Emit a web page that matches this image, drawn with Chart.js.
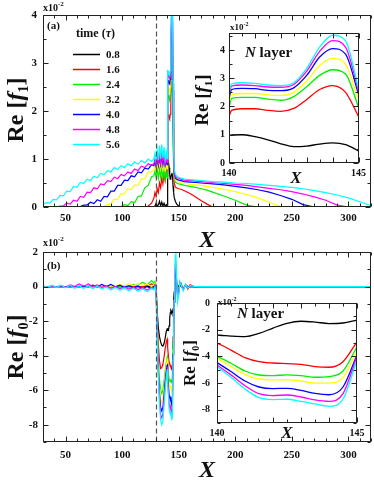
<!DOCTYPE html>
<html>
<head>
<meta charset="utf-8">
<script src="https://cdn.jsdelivr.net/npm/chart.js@4.4.0/dist/chart.umd.min.js"></script>
<style>
  html, body { margin: 0; padding: 0; background: #fff; }
  #wrap { position: relative; width: 374px; height: 484px; overflow: hidden; }
  canvas { position: absolute; }
</style>
</head>
<body>
<div id="wrap">
  <canvas id="mainA" width="374" height="250" style="left:0;top:0"></canvas>
  <canvas id="mainB" width="374" height="248" style="left:0;top:236px"></canvas>
  <canvas id="insetA" width="190" height="170" style="left:180px;top:18px"></canvas>
  <canvas id="insetB" width="210" height="160" style="left:160px;top:290px"></canvas>
</div>
<script>
// ---- data (values in units of 1e-2) ----
const timeLabels = ['0.8', '1.6', '2.4', '3.2', '4.0', '4.8', '5.6'];
const lineColors = ['#000000', '#ff0000', '#00ee00', '#ffff00', '#0000ff', '#ff00ff', '#00ffff'];

const xRampA = [30,33,36,39,42,45,48,51,54,57,60,63,66,69,72,75,78,81,84,87,90,93,96,99,102,105,108,111,114,117,120,123,126];
const xRampB = [30,34,38,42,46,50,54,58,62,66,70,74,78,82,86,90,94,98,102,106,110,114,118,122,126];
const xFront = [128,129,130,131,132,133,134,135,136,137,138,139,139.8];
const xLayer = [140,140.1,140.5,141,141.5,142,142.5,143,143.5,144,144.5,145];
const xTailA = [145.5,146,147,148,149,150,152,155,160,165,170,175,180,190,200,210,220,230,240,250,260,270,280,290,300,310,320];
const xTailB = [145.5,146,146.5,147,147.5,148,149,150,151,152,154,156,158,160,165,170,180,200,250,320];

const xMainTicks = [50, 100, 150, 200, 250, 300];
const xInsetTicks = [140, 145];
const yTicksA = [0, 1, 2, 3, 4];
const yTicksB = [2, 0, -2, -4, -6, -8];
const yTicksInsetB = [0, -2, -4, -6, -8];

// Re[f1], panel (a)
const f1_08 = [0,0,0,0,0,0,0,0,0,0,0,0,0,0,0,0,0,0,0,0,0,0,0,0,0,0,0,0,0,0,0,0,0,
  0,0.02,0.08,0.01,0.05,0.12,0.02,0.1,0.02,0.08,0.01,0.05,0.02,
  0.97,0.99,1.0,0.93,0.82,0.68,0.58,0.6,0.67,0.71,0.65,0.43,
  0.3,0.2,0.12,0.07,0.04,0.02,0,0,0,0,0,0,0,0,0,0,0,0,0,0,0,0,0,0,0,0,0];
const f1_16 = [0,0,0,0,0,0,0,0,0,0,0,0,0,0,0,0,0,0,0,0,0,0,0,0,0,0,0,0,0,0,0,0.02,0.08,
  0.18,0.3,0.22,0.38,0.3,0.5,0.4,0.6,0.48,0.68,0.55,0.75,0.65,
  1.65,1.86,1.92,1.92,1.86,1.83,1.93,2.25,2.6,2.74,2.5,1.65,
  0.8,0.5,0.42,0.4,0.39,0.38,0.37,0.34,0.28,0.21,0.13,0.06,0,0,0,0,0,0,0,0,0,0,0,0,0,0,0];
const f1_24 = [0,0,0,0,0,0,0,0,0,0,0,0,0,0,0,0,0,0,0,0,0,0,0,0.01,0.05,0.03,0.11,0.09,0.22,0.23,0.4,0.45,0.63,
  0.65,0.75,0.62,0.78,0.6,0.8,0.62,0.82,0.6,0.78,0.58,0.7,0.6,
  1.95,2.28,2.32,2.32,2.26,2.22,2.35,2.7,3.1,3.3,3.15,1.98,
  0.9,0.62,0.52,0.5,0.49,0.48,0.47,0.45,0.43,0.41,0.38,0.35,0.31,0.23,0.14,0.04,0,0,0,0,0,0,0,0,0,0,0];
const f1_32 = [0,0,0,0,0,0,0,0,0,0,0,0,0,0,0,0,0,0,0.01,0.05,0.06,0.16,0.16,0.28,0.27,0.38,0.36,0.46,0.45,0.58,0.59,0.73,0.73,
  0.78,0.88,0.76,0.92,0.78,0.96,0.8,0.98,0.8,0.94,0.78,0.88,0.8,
  2.1,2.42,2.46,2.46,2.41,2.39,2.5,2.9,3.45,3.7,3.5,2.27,
  0.95,0.66,0.56,0.54,0.53,0.52,0.51,0.49,0.47,0.46,0.45,0.43,0.41,0.37,0.32,0.26,0.19,0.1,0.01,0,0,0,0,0,0,0,0];
const f1_40 = [0,0,0,0,0,0,0,0,0,0,0,0.01,0.04,0.04,0.1,0.07,0.15,0.12,0.22,0.21,0.33,0.33,0.45,0.45,0.56,0.55,0.65,0.63,0.73,0.71,0.81,0.79,0.88,
  0.86,0.95,0.84,1.0,0.86,1.04,0.88,1.06,0.88,1.02,0.86,0.95,0.88,
  2.3,2.6,2.64,2.63,2.57,2.56,2.66,3.1,3.75,4.05,3.85,2.44,
  1.0,0.7,0.6,0.58,0.57,0.56,0.55,0.53,0.52,0.51,0.5,0.49,0.48,0.46,0.43,0.4,0.36,0.31,0.24,0.16,0.05,0,0,0,0,0,0];
const f1_48 = [0,0.01,0,0.01,0,0.02,0.02,0.08,0.06,0.14,0.12,0.22,0.2,0.31,0.3,0.4,0.38,0.48,0.46,0.55,0.53,0.62,0.59,0.68,0.65,0.73,0.7,0.79,0.76,0.85,0.82,0.9,0.87,
  0.9,1.0,0.88,1.05,0.9,1.1,0.92,1.12,0.93,1.08,0.9,1.0,0.92,
  2.4,2.72,2.76,2.74,2.69,2.68,2.78,3.25,3.95,4.33,4.1,2.56,
  1.1,0.75,0.64,0.62,0.61,0.6,0.58,0.56,0.55,0.54,0.53,0.52,0.51,0.49,0.47,0.45,0.42,0.39,0.36,0.32,0.27,0.21,0.14,0.04,0,0,0];
const f1_56 = [0.05,0.09,0.08,0.16,0.15,0.24,0.23,0.33,0.32,0.43,0.41,0.51,0.49,0.58,0.55,0.64,0.61,0.7,0.67,0.76,0.73,0.82,0.78,0.86,0.82,0.9,0.86,0.94,0.89,0.97,0.92,1.0,0.95,
  1.0,1.12,0.95,1.2,0.98,1.28,1.0,1.3,1.02,1.25,0.98,1.15,1.0,
  2.5,2.8,2.84,2.82,2.76,2.74,2.84,3.35,4.1,4.52,4.32,2.65,
  1.2,0.8,0.68,0.65,0.63,0.62,0.6,0.58,0.57,0.56,0.55,0.54,0.53,0.52,0.5,0.49,0.47,0.45,0.43,0.41,0.38,0.34,0.3,0.25,0.19,0.11,0.03];

// Re[f0], panel (b)
const f0_08 = [0,0,0,0,0,0,0,0,0,0,0,0,0,0,0,0,0,0,0,0,0,0,0,0,0,
  0,0.05,-0.1,-1.5,-2.4,-2.9,-3.2,-3.4,-3.45,-3.3,-3.0,-2.6,-2.45,
  -2.41,-2.42,-2.48,-2.52,-2.28,-1.88,-1.52,-1.37,-1.43,-1.54,-1.5,-1.29,
  -0.8,-0.3,0.05,0.2,0.2,0.05,-0.1,0.05,0.1,0,-0.1,0.05,0,0,0,0,0,0,0,0];
const f0_16 = [0,0,0,0,0,0,0,0,0,0,0,0,0,0,0,0,0,0,0,0,0,0,0,0.05,0.15,
  0.1,0.15,0,-2.0,-3.4,-4.3,-4.75,-4.7,-4.5,-4.1,-3.6,-3.2,-3.05,
  -3.03,-3.1,-3.53,-4.1,-4.4,-4.5,-4.55,-4.6,-4.77,-4.82,-4.4,-2.91,
  -1.6,-0.7,0.1,0.35,0.4,0.1,-0.2,-0.1,0.1,0.2,-0.15,0.1,-0.15,0.1,-0.05,0,0,0,0,0];
const f0_24 = [0,0,0,0,0,0,0,0,0,0,0,0,0,0,0,0,0,0,0.03,0,0.12,0.05,0.25,0.1,0.35,
  0.2,0.3,0.05,-2.4,-4.2,-5.4,-6.0,-6.2,-6.0,-5.5,-4.9,-4.4,-4.1,
  -4.02,-4.1,-4.52,-5.1,-5.4,-5.45,-5.39,-5.45,-5.57,-5.52,-5.1,-3.28,
  -1.9,-0.8,0.2,0.6,0.65,0.2,-0.3,-0.2,0.1,0.05,-0.1,0.05,0,0,0,0,0,0,0,0];
const f0_32 = [0,0,0,0,0,0,0,0,0,0,0,0,0,0,0,0.03,0,0.12,0.02,0.18,0.05,0.2,0.05,0.15,0,
  0.1,0.2,0,-2.6,-4.5,-5.8,-6.5,-6.7,-6.5,-5.9,-5.2,-4.6,-4.25,
  -4.15,-4.27,-4.77,-5.35,-5.7,-5.76,-5.76,-5.85,-6.01,-6.01,-5.6,-3.65,
  -2.0,-0.9,0.3,0.8,0.85,0.3,-0.4,-0.25,0.15,0.05,-0.1,0.05,0,0,0,0,0,0,0,0];
const f0_40 = [0,0,0,0,0,0,0,0,0,0.02,0,0.08,-0.02,0.12,0,0.12,-0.02,0.08,-0.05,0.05,-0.08,0.02,-0.1,0,-0.12,
  -0.05,0.1,-0.1,-2.8,-4.8,-6.2,-7.0,-7.2,-7.0,-6.3,-5.5,-4.9,-4.55,
  -4.47,-4.6,-5.14,-5.85,-6.3,-6.42,-6.4,-6.55,-6.78,-6.88,-6.3,-3.9,
  -2.2,-0.9,0.4,1.0,1.1,0.4,-0.5,-0.3,0.2,0.05,-0.15,0.1,0,0,0,0,0,0,0,0];
const f0_48 = [0,0,0.02,-0.02,0.05,-0.03,0.1,0,0.15,0.02,0.15,0,0.1,-0.05,0.05,-0.1,0,-0.12,-0.02,-0.15,-0.05,-0.18,-0.05,-0.2,-0.05,
  -0.1,0.05,-0.15,-2.9,-5.0,-6.5,-7.4,-7.6,-7.4,-6.6,-5.8,-5.1,-4.75,
  -4.65,-4.8,-5.39,-6.2,-6.8,-6.94,-6.9,-7.05,-7.27,-7.38,-6.8,-4.02,
  -2.3,-0.9,0.5,1.3,1.4,0.5,-0.7,-0.4,0.25,0.1,-0.2,0.1,-0.05,0,0,0,0,0,0,0];
const f0_56 = [0.05,-0.05,0.08,-0.06,0.08,-0.08,0.06,-0.1,0.05,-0.1,0.05,-0.12,0.02,-0.15,-0.02,-0.2,-0.05,-0.22,-0.08,-0.25,-0.1,-0.28,-0.12,-0.3,-0.1,
  -0.2,0,-0.3,-3.0,-5.2,-6.8,-7.7,-8.0,-7.8,-6.9,-6.0,-5.3,-4.85,
  -4.77,-4.93,-5.57,-6.45,-7.1,-7.24,-7.22,-7.38,-7.57,-7.75,-7.2,-4.27,
  -2.5,-0.8,0.8,1.8,2.0,0.8,-0.9,-0.5,0.3,0.1,-0.25,0.15,-0.1,0.05,0,0,0,0,0,0];

const xA = [...xRampA, ...xFront, ...xLayer, ...xTailA];
const xB = [...xRampB, ...xFront, ...xLayer, ...xTailB];
const f1 = [f1_08, f1_16, f1_24, f1_32, f1_40, f1_48, f1_56];
const f0 = [f0_08, f0_16, f0_24, f0_32, f0_40, f0_48, f0_56];

// ---- drawing ----
const SERIF = '"Liberation Serif", "Times New Roman", serif';
const B = s => `bold ${s}px ${SERIF}`;
const BI = s => `italic bold ${s}px ${SERIF}`;
Chart.defaults.font.family = SERIF;

function rich(ctx, parts, x, y, align) {
  let w = 0;
  parts.forEach(p => { ctx.font = p[1]; w += ctx.measureText(p[0]).width; });
  let cx = align === 'center' ? x - w / 2 : x;
  parts.forEach(p => {
    ctx.font = p[1];
    ctx.fillText(p[0], cx, y + (p[2] || 0));
    cx += ctx.measureText(p[0]).width;
  });
}

const decor = {
  id: 'decor',
  beforeDraw(chart, args, o) {
    if (!o.fill) return;
    const a = chart.chartArea, ctx = chart.ctx;
    ctx.save();
    ctx.fillStyle = '#fff';
    ctx.fillRect(a.left, a.top, a.width, a.height);
    ctx.restore();
  },
  afterDraw(chart, args, o) {
    const {ctx, chartArea: a, scales: {x, y}} = chart;
    const L = Math.round(a.left) + 0.5, R = Math.round(a.right) - 0.5;
    const T = Math.round(a.top) + 0.5, Bt = Math.round(a.bottom) - 0.5;
    ctx.save();
    if (o.dashX != null) {
      const px = Math.round(x.getPixelForValue(o.dashX)) + 0.5;
      ctx.strokeStyle = '#555';
      ctx.lineWidth = 1.2;
      ctx.setLineDash([5, 3]);
      ctx.beginPath(); ctx.moveTo(px, T); ctx.lineTo(px, Bt); ctx.stroke();
      ctx.setLineDash([]);
    }
    ctx.strokeStyle = '#222';
    ctx.lineWidth = 1;
    ctx.strokeRect(L, T, R - L, Bt - T);

    // inward ticks on all four sides
    ctx.beginPath();
    const isMajor = (v, m) => Math.abs(v / m - Math.round(v / m)) < 1e-6;
    let n = Math.round((x.max - x.min) / o.xMinor);
    for (let i = 0; i <= n; i++) {
      const v = x.min + i * o.xMinor;
      const px = Math.round(x.getPixelForValue(v)) + 0.5;
      const len = isMajor(v, o.xMajor) ? 5 : 3;
      ctx.moveTo(px, Bt); ctx.lineTo(px, Bt - len);
      ctx.moveTo(px, T); ctx.lineTo(px, T + len);
    }
    n = Math.round((y.max - y.min) / o.yMinor);
    for (let i = 0; i <= n; i++) {
      const v = y.min + i * o.yMinor;
      const py = Math.round(y.getPixelForValue(v)) + 0.5;
      const len = isMajor(v, o.yMajor) ? 5 : 3;
      ctx.moveTo(L, py); ctx.lineTo(L + len, py);
      ctx.moveTo(R, py); ctx.lineTo(R - len, py);
    }
    ctx.stroke();

    ctx.fillStyle = '#111';
    ctx.textBaseline = 'alphabetic';
    (o.texts || []).forEach(t => {
      if (t.rot) {
        ctx.save();
        ctx.translate(t.x, t.y);
        ctx.rotate(-Math.PI / 2);
        rich(ctx, t.p, 0, 0, 'center');
        ctx.restore();
      } else {
        rich(ctx, t.p, t.x, t.y, t.align);
      }
    });

    if (o.legend) {
      const lg = o.legend;
      chart.data.datasets.forEach((ds, i) => {
        const yy = lg.y + i * lg.dy + 0.5;
        ctx.strokeStyle = ds.borderColor;
        ctx.lineWidth = 1.5;
        ctx.beginPath(); ctx.moveTo(lg.x, yy); ctx.lineTo(lg.x + lg.len, yy); ctx.stroke();
        ctx.fillStyle = '#111';
        ctx.font = B(11);
        ctx.textBaseline = 'middle';
        ctx.fillText(ds.label, lg.x + lg.len + 6, yy + 1);
      });
    }
    ctx.restore();
  }
};

function lineChart(id, xs, rows, c) {
  const keep = xs.map(v => v >= c.xmin && v <= c.xmax);
  return new Chart(document.getElementById(id), {
    type: 'line',
    data: {
      datasets: rows.map((row, i) => ({
        label: timeLabels[i],
        data: xs.map((v, j) => ({x: v, y: row[j]})).filter((p, j) => keep[j]),
        borderColor: lineColors[i],
        borderWidth: c.lw,
        pointRadius: 0,
        tension: 0,
        cubicInterpolationMode: c.smooth ? 'monotone' : 'default',
        order: rows.length - i,
        fill: false
      }))
    },
    options: {
      responsive: false,
      animation: false,
      devicePixelRatio: 1,
      layout: {padding: c.pad},
      plugins: {legend: {display: false}, tooltip: {enabled: false}, decor: c.decor},
      scales: {
        x: {
          type: 'linear', min: c.xmin, max: c.xmax,
          afterBuildTicks: s => { s.ticks = c.xTicks.map(v => ({value: v})); },
          afterFit: s => { s.height = c.xh; },
          grid: {display: false, drawTicks: false},
          border: {display: false},
          ticks: {font: {size: c.fs, weight: 'bold'}, color: '#111', padding: c.xpad, maxRotation: 0, autoSkip: false, callback: v => String(v)}
        },
        y: {
          type: 'linear', min: c.ymin, max: c.ymax,
          afterBuildTicks: s => { s.ticks = c.yTicks.map(v => ({value: v})); },
          afterFit: s => { s.width = c.yw; },
          grid: {display: false, drawTicks: false},
          border: {display: false},
          ticks: {font: {size: c.fs, weight: 'bold'}, color: '#111', padding: c.ypad, autoSkip: false, callback: v => String(v)}
        }
      }
    },
    plugins: [decor]
  });
}

lineChart('mainA', xA, f1, {
  xmin: 30, xmax: 320, ymin: 0, ymax: 4, xTicks: xMainTicks, yTicks: yTicksA,
  pad: {top: 15, right: 3, left: 0, bottom: 0}, xh: 43, yw: 43, xpad: 5, ypad: 6, fs: 11, lw: 1.2,
  decor: {
    dashX: 130, xMinor: 10, xMajor: 50, yMinor: 0.5, yMajor: 1,
    legend: {x: 73, y: 54, dy: 15, len: 27},
    texts: [
      {p: [['x10', B(10)], ['-2', B(7), -5]], x: 43, y: 11},
      {p: [['(a)', B(11)]], x: 47, y: 29},
      {p: [['time (', B(12)], ['\u03c4', BI(12)], [')', B(12)]], x: 76, y: 37},
      {p: [['Re [', B(24)], ['f', BI(24)], ['1', B(14), 5], [']', B(24)]], x: 23, y: 110, rot: true},
      {p: [['X', BI(24)]], x: 207, y: 247, align: 'center'}
    ]
  }
});

lineChart('mainB', xB, f0, {
  xmin: 30, xmax: 320, ymin: -9, ymax: 2, xTicks: xMainTicks, yTicks: yTicksB,
  pad: {top: 16, right: 3, left: 0, bottom: 0}, xh: 42, yw: 43, xpad: 7, ypad: 5, fs: 11, lw: 1.2,
  decor: {
    dashX: 130, xMinor: 10, xMajor: 50, yMinor: 1, yMajor: 2,
    texts: [
      {p: [['x10', B(10)], ['-2', B(7), -5]], x: 43, y: 10},
      {p: [['(b)', B(11)]], x: 47, y: 33},
      {p: [['Re [', B(24)], ['f', BI(24)], ['0', B(14), 5], [']', B(24)]], x: 23, y: 111, rot: true},
      {p: [['X', BI(24)]], x: 207, y: 241, align: 'center'}
    ]
  }
});

lineChart('insetA', xA, f1, {
  xmin: 140, xmax: 145, ymin: 0, ymax: 4.6, xTicks: xInsetTicks, yTicks: yTicksA, smooth: true,
  pad: {top: 15, right: 10, left: 0, bottom: 0}, xh: 25, yw: 49, xpad: 4, ypad: 4, fs: 10, lw: 1.3,
  decor: {
    fill: true, xMinor: 0.5, xMajor: 1, yMinor: 0.5, yMajor: 1,
    texts: [
      {p: [['x10', B(9)], ['-2', B(6), -4]], x: 50, y: 12},
      {p: [['N', BI(15)], [' layer', B(15)]], x: 65, y: 39},
      {p: [['Re [', B(19)], ['f', BI(19)], ['1', B(11), 4], [']', B(19)]], x: 28, y: 82, rot: true},
      {p: [['X', BI(17)]], x: 116, y: 165, align: 'center'}
    ]
  }
});

lineChart('insetB', xB, f0, {
  xmin: 140, xmax: 145, ymin: -9, ymax: 0, xTicks: xInsetTicks, yTicks: yTicksInsetB, smooth: true,
  pad: {top: 12, right: 13, left: 0, bottom: 0}, xh: 27, yw: 57, xpad: 4, ypad: 7, fs: 10, lw: 1.3,
  decor: {
    fill: true, xMinor: 0.5, xMajor: 1, yMinor: 1, yMajor: 2,
    texts: [
      {p: [['x10', B(9)], ['-2', B(6), -4]], x: 58, y: 15},
      {p: [['N', BI(15)], [' layer', B(15)]], x: 77, y: 28},
      {p: [['Re [', B(17)], ['f', BI(17)], ['0', B(10), 4], [']', B(17)]], x: 35, y: 73, rot: true},
      {p: [['X', BI(17)]], x: 127, y: 148, align: 'center'}
    ]
  }
});
</script>
</body>
</html>
